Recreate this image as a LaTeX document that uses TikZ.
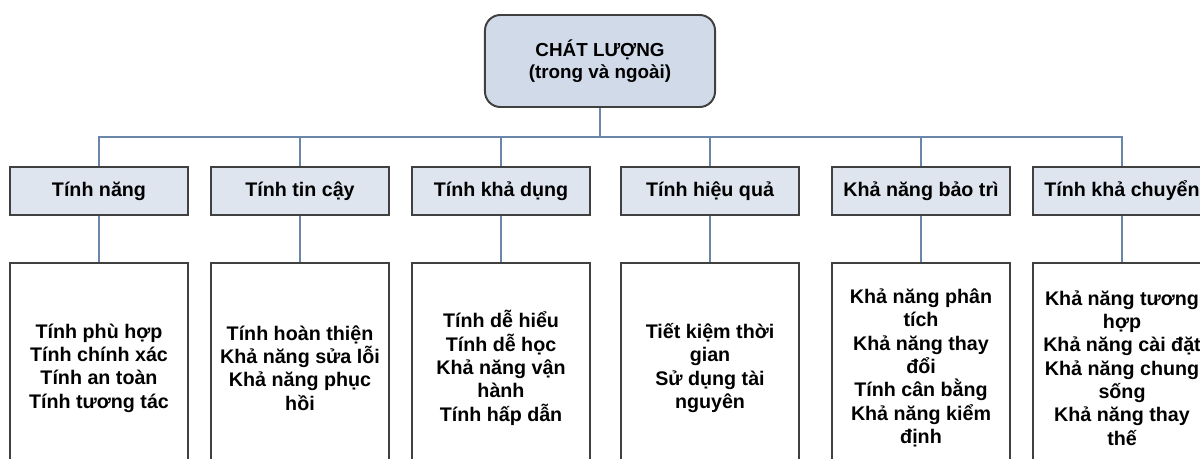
\documentclass[tikz,border=0pt]{standalone}
\usepackage{fontspec}
\setmainfont{Liberation Sans}
\usetikzlibrary{arrows}
\definecolor{rootfill}{HTML}{D1DAE9}
\definecolor{headfill}{HTML}{DFE5EF}
\definecolor{framegray}{HTML}{404040}
\definecolor{linkblue}{HTML}{6A87AB}

\begin{document}
\begin{tikzpicture}[x=0.025cm, y=-0.025cm,
   root/.style={draw=framegray, line width=1.4pt, rounded corners=11pt, fill=rootfill, minimum width=5.75cm, minimum height=2.3cm, align=center, font=\bfseries\fontsize{13.4}{15.6}\selectfont},
   head/.style={draw=framegray, line width=0.9pt, fill=headfill, minimum width=4.45cm, minimum height=1.2cm, align=center, font=\bfseries\fontsize{14}{15}\selectfont},
   leaf/.style={draw=framegray, line width=0.9pt, fill=white, minimum width=4.45cm, minimum height=5.25cm, align=center, font=\bfseries\fontsize{14}{16.6}\selectfont},
   link/.style={draw=linkblue, line width=1.1pt}]

         \clip (0,0) rectangle (1200,459);

         \node(top) at (600,61) [root]{CHÁT LƯỢNG\\(trong và ngoài)};
         \coordinate(bus) at (600,137);

         \node(f1) at (99,191) [head]{Tính năng};
         \node(f2) at (300,191) [head]{Tính tin cậy};
         \node(f3) at (501,191) [head]{Tính khả dụng};
         \node(f4) at (710,191) [head]{Tính hiệu quả};
         \node(f5) at (921,191) [head]{Khả năng bảo trì};
         \node(f6) at (1122,191) [head]{Tính khả chuyển};

         \node(s1) at (99,368) [leaf]{Tính phù hợp\\Tính chính xác\\Tính an toàn\\Tính tương tác};
         \node(s2) at (300,368) [leaf]{Tính hoàn thiện\\Khả năng sửa lỗi\\Khả năng phục\\hồi};
         \node(s3) at (501,368) [leaf]{Tính dễ hiểu\\Tính dễ học\\Khả năng vận\\hành\\Tính hấp dẫn};
         \node(s4) at (710,368) [leaf]{Tiết kiệm thời\\gian\\Sử dụng tài\\nguyên};
         \node(s5) at (921,368) [leaf]{Khả năng phân\\tích\\Khả năng thay\\đổi\\Tính cân bằng\\Khả năng kiểm\\định};
         \node(s6) at (1122,368) [leaf]{Khả năng tương\\hợp\\Khả năng cài đặt\\Khả năng chung\\sống\\Khả năng thay\\thế};

         \draw[link] (top) -- (bus);
         \draw[link] (bus) -| (f1);
         \draw[link] (bus) -| (f2);
         \draw[link] (bus) -| (f3);
         \draw[link] (bus) -| (f4);
         \draw[link] (bus) -| (f5);
         \draw[link] (bus) -| (f6);

         \draw[link] (f1) -- (s1);
         \draw[link] (f2) -- (s2);
         \draw[link] (f3) -- (s3);
         \draw[link] (f4) -- (s4);
         \draw[link] (f5) -- (s5);
         \draw[link] (f6) -- (s6);

\end{tikzpicture}
\end{document}
